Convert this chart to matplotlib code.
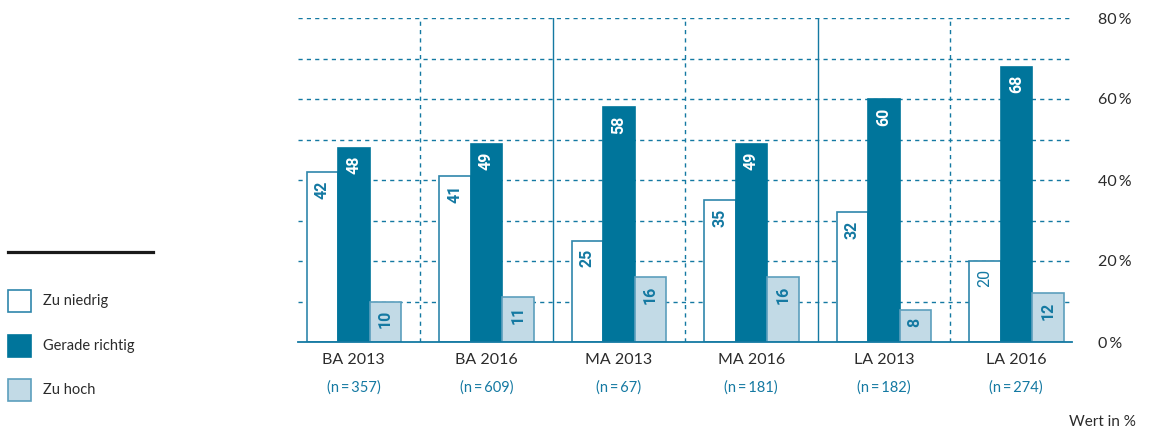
"""
Grouped bars: Zu niedrig / Gerade richtig / Zu hoch per degree and year
"""

import numpy as np
import matplotlib.pyplot as plt
from matplotlib.patches import Rectangle
from matplotlib.lines import Line2D
from matplotlib.transforms import blended_transform_factory

# ---------------------------------------------------------------------------- #
# Data
# ---------------------------------------------------------------------------- #

groups = ['BA 2013', 'BA 2016', 'MA 2013', 'MA 2016', 'LA 2013', 'LA 2016']
sample_sizes = ['(n\u2009=\u2009357)', '(n\u2009=\u2009609)', '(n\u2009=\u200967)',
                '(n\u2009=\u2009181)', '(n\u2009=\u2009182)', '(n\u2009=\u2009274)']
series_names = ['Zu niedrig', 'Gerade richtig', 'Zu hoch']
zu_niedrig = [42, 41, 25, 35, 32, 20]
gerade_richtig = [48, 49, 58, 49, 60, 68]
zu_hoch = [10, 11, 16, 16, 8, 12]
y_ticks = [0, 20, 40, 60, 80]
y_ticklabels = ['0\u2009%', '20\u2009%', '40\u2009%', '60\u2009%', '80\u2009%']

# ---------------------------------------------------------------------------- #
# Style
# ---------------------------------------------------------------------------- #

blue = '#00759b'
line_blue = '#1479a2'
light = '#c2dae6'
text_dark = '#2b2b2b'
face_colours = ['white', blue, light]
edge_colours = ['#2f86ab', blue, '#5c9fbd']
label_colours = [line_blue, 'white', line_blue]

plt.rcParams['font.family'] = ['Lato', 'DejaVu Sans']

W, H = 1152, 433
fig = plt.figure(figsize=(W / 100, H / 100), dpi=100)

def fx(px):
    return px / W

def fy(py):
    return 1 - py / H

# axes spans pixels x 298..1072, y 18 (80 %) .. 342 (0 %)
ax = fig.add_axes([fx(298), fy(342), fx(1072) - fx(298), fy(18) - fy(342)])

group_w = 132.5
margin = 10.5 / group_w
ax.set_xlim(-0.5 + margin, len(groups) - 0.5 - margin)
ax.set_ylim(0, 80)

# Grid
for yv in range(10, 90, 10):
    ax.axhline(yv, color=line_blue, lw=1.0, ls=(0, (3, 3)), zorder=1)
for i in range(1, len(groups)):
    if i % 2 == 0:
        ax.axvline(i - 0.5, color=line_blue, lw=1.0, zorder=1)
    else:
        ax.axvline(i - 0.5, color=line_blue, lw=1.0, ls=(0, (3, 3)), zorder=1)
ax.axhline(0, color=line_blue, lw=1.3, zorder=4, clip_on=False)

# Bars
x = np.arange(len(groups))
bar_w = 31.5 / group_w
all_series = [zu_niedrig, gerade_richtig, zu_hoch]
for j, values in enumerate(all_series):
    xs = x + (j - 1) * bar_w
    ax.bar(xs, values, width=bar_w, color=face_colours[j],
           edgecolor=edge_colours[j], linewidth=1.2, zorder=3)
    for xi, v in zip(xs, values):
        weight = 'normal' if v == 20 else 'bold'
        ax.annotate(str(v), (xi, v), xytext=(0, -6), textcoords='offset points',
                    rotation=90, ha='center', va='top', fontsize=11.5,
                    fontweight=weight, color=label_colours[j], zorder=5,
                    family=['Roboto', 'DejaVu Sans'])

# Axes cosmetics
for s in ax.spines.values():
    s.set_visible(False)
ax.set_xticks([])
ax.yaxis.tick_right()
ax.set_yticks(y_ticks)
ax.set_yticklabels(y_ticklabels)
ax.tick_params(axis='y', length=0, pad=19, labelsize=11.5, labelcolor=text_dark)

# Group labels
trans = blended_transform_factory(ax.transData, fig.transFigure)
for xi, g, n in zip(x, groups, sample_sizes):
    ax.text(xi, fy(360), g, transform=trans, ha='center', va='center',
            fontsize=11.5, color=text_dark)
    ax.text(xi, fy(388), n, transform=trans, ha='center', va='center',
            fontsize=10.5, color=line_blue)

fig.text(fx(1136), fy(422), 'Wert in %', ha='right', va='center', fontsize=11,
         color=text_dark)

# Legend
fig.add_artist(Line2D([fx(8), fx(153)], [fy(252), fy(252)], color='#1a1a1a',
                      lw=2.3, transform=fig.transFigure))
legend_y = [301, 346, 390]
for j, (name, yc) in enumerate(zip(series_names, legend_y)):
    fig.add_artist(Rectangle((fx(8), fy(yc + 11)), fx(23), fy(0) - fy(22),
                             facecolor=face_colours[j], edgecolor=edge_colours[j],
                             lw=1.2, transform=fig.transFigure))
    fig.text(fx(43), fy(yc), name, ha='left', va='center', fontsize=10.5,
             color=text_dark)

fig.savefig('out.png', dpi=100)
plt.close()
